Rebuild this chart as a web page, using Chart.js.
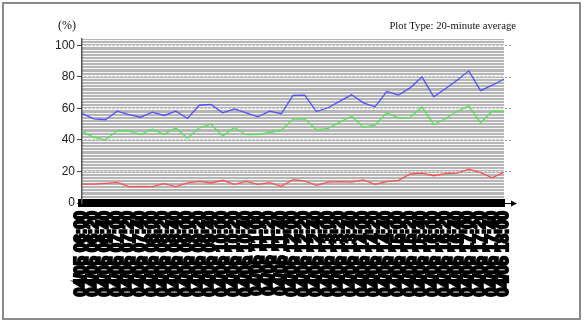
<!DOCTYPE html>
<html>
<head>
<meta charset="utf-8">
<script src="https://cdn.jsdelivr.net/npm/chart.js@4/dist/chart.umd.min.js"></script>
<style>
  html, body { margin: 0; padding: 0; background: #fff; }
  #wrap { position: relative; width: 585px; height: 324px; }
</style>
</head>
<body>
<div id="wrap"><canvas id="chart" width="585" height="324"></canvas></div>
<script>
// time slots (20-minute averages)
const labels = [
    '04/05 06:00', '04/05 06:20', '04/05 06:40', '04/05 07:00', '04/05 07:20',
    '04/05 07:40', '04/05 08:00', '04/05 08:20', '04/05 08:40', '04/05 09:00',
    '04/05 09:20', '04/05 09:40', '04/05 10:00', '04/05 10:20', '04/05 10:40',
    '04/05 11:00', '04/05 11:20', '04/05 11:40', '04/05 12:00', '04/05 12:20',
    '04/05 12:40', '04/05 13:00', '04/05 13:20', '04/05 13:40', '04/05 14:00',
    '04/05 14:20', '04/05 14:40', '04/05 15:00', '04/05 15:20', '04/05 15:40',
    '04/05 16:00', '04/05 16:20', '04/05 16:40', '04/05 17:00', '04/05 17:20',
    '04/05 17:40', '04/05 18:00'
];

const blueValues = [56.8, 53.4, 52.8, 58.2, 56.1, 54.4, 57.6, 55.5, 58.2, 53.6, 62, 62.5, 57.2,
    59.7, 57.2, 54.7, 58.2, 56.6, 68.2, 68.4, 58, 60.4, 64.6, 68.6, 63.5, 61, 70.7, 68.4, 73,
    80, 67.3, 72.4, 77.8, 83.8, 71.3, 74.7, 78.5];
const greenValues = [45.4, 41.6, 40.1, 45.6, 45.6, 43.5, 46.8, 43.5, 47.7, 41.1, 47.7, 50, 42.4,
    47.9, 43.3, 43.3, 44.7, 46, 53.2, 53.4, 46.4, 47.3, 51.3, 55, 48.1, 49.4, 57.2, 54, 54.2,
    61, 49.8, 53.4, 58.2, 61.4, 50.9, 58.2, 57.8];
const redValues = [12, 12, 12.5, 13.1, 10.4, 10.6, 10.4, 12.3, 10.4, 12.7, 13.7, 12.7, 14.4,
    11.8, 13.7, 11.8, 12.9, 10.6, 14.8, 13.9, 11.2, 13.3, 13.5, 13.3, 14.6, 11.8, 13.5, 14.4,
    18.4, 19, 17.3, 18.6, 19, 21.5, 19.2, 16, 19.6];

const yTicks = [0, 20, 40, 60, 80, 100];
const yMax = 104;

const unitLabel = '(%)';
const plotTypeLabel = 'Plot Type: 20-minute average';

// gray band background + frame, arrow and header texts
const decorations = {
    id: 'decorations',
    beforeDraw(chart) {
        const { ctx, chartArea: a } = chart;
        ctx.save();
        ctx.fillStyle = '#b6b6b6';
        ctx.fillRect(a.left, a.top, a.right - a.left, a.bottom - a.top);
        ctx.restore();
    },
    afterDraw(chart) {
        const { ctx, chartArea: a } = chart;
        const y = chart.scales.y;
        ctx.save();

        // small dashes past the right edge at each gridline
        ctx.strokeStyle = '#aaa';
        ctx.lineWidth = 1;
        ctx.setLineDash([2, 2]);
        yTicks.slice(1).forEach(v => {
            const py = Math.round(y.getPixelForValue(v)) + 0.5;
            ctx.beginPath();
            ctx.moveTo(a.right + 1, py);
            ctx.lineTo(a.right + 8, py);
            ctx.stroke();
        });
        ctx.setLineDash([]);

        // axis arrow
        const by = Math.round(a.bottom) + 0.5;
        ctx.strokeStyle = '#000';
        ctx.beginPath();
        ctx.moveTo(a.right, by);
        ctx.lineTo(a.right + 9, by);
        ctx.stroke();
        ctx.fillStyle = '#000';
        ctx.beginPath();
        ctx.moveTo(a.right + 13, by);
        ctx.lineTo(a.right + 7, by - 3);
        ctx.lineTo(a.right + 7, by + 3);
        ctx.closePath();
        ctx.fill();

        // texts
        ctx.fillStyle = '#111';
        ctx.textBaseline = 'alphabetic';
        ctx.font = '12px "Liberation Serif", serif';
        ctx.textAlign = 'left';
        ctx.fillText(unitLabel, 58, 29);
        ctx.font = '10.7px "Liberation Serif", serif';
        ctx.textAlign = 'right';
        ctx.fillText(plotTypeLabel, 516, 29);

        // outer frame
        ctx.strokeStyle = '#8a8a8a';
        ctx.lineWidth = 2;
        ctx.strokeRect(3, 3, 577, 316);
        ctx.restore();
    }
};

const lineStyle = color => ({
    borderColor: color,
    backgroundColor: color,
    borderWidth: 1.3,
    pointRadius: 0,
    tension: 0,
    fill: false
});

new Chart(document.getElementById('chart'), {
    type: 'line',
    data: {
        labels: labels,
        datasets: [
            { label: 'A', data: blueValues, ...lineStyle('#5050ff') },
            { label: 'B', data: greenValues, ...lineStyle('#50e650') },
            { label: 'C', data: redValues, ...lineStyle('#ff5050') }
        ]
    },
    options: {
        responsive: false,
        animation: false,
        layout: { padding: { top: 39, right: 81, left: 0, bottom: 0 } },
        plugins: { legend: { display: false }, tooltip: { enabled: false } },
        scales: {
            x: {
                offset: false,
                afterFit: s => { s.height = 121; },
                grid: { drawOnChartArea: false, drawTicks: false },
                border: { display: true, color: '#000', width: 8 },
                ticks: {
                    autoSkip: false,
                    minRotation: 90,
                    maxRotation: 90,
                    padding: 8,
                    color: '#000',
                    textStrokeColor: '#000',
                    textStrokeWidth: 2.2,
                    font: { family: '"Liberation Sans", Arial, sans-serif', size: 16, weight: 'bold' }
                }
            },
            stripes: {
                type: 'linear',
                position: 'left',
                min: 0,
                max: yMax,
                afterFit: s => { s.width = 0; },
                afterBuildTicks: s => {
                    const t = [];
                    for (let v = 1; v < yMax; v += 2) t.push({ value: v });
                    s.ticks = t;
                },
                ticks: { display: false },
                grid: { color: '#f6f6f6', lineWidth: 1, drawTicks: false },
                border: { display: false }
            },
            y: {
                min: 0,
                max: yMax,
                afterFit: s => { s.width = 82; },
                afterBuildTicks: s => {
                    s.ticks = yTicks.map(v => ({ value: v }));
                },
                ticks: {
                    padding: 2,
                    color: '#222',
                    font: { family: '"Liberation Sans", Arial, sans-serif', size: 12 }
                },
                grid: {
                    color: '#ffffff',
                    lineWidth: 1,
                    tickLength: 5,
                    tickColor: '#444'
                },
                border: { display: true, color: '#555', width: 1.5, dash: [2, 2] }
            }
        }
    },
    plugins: [decorations]
});
</script>
</body>
</html>
